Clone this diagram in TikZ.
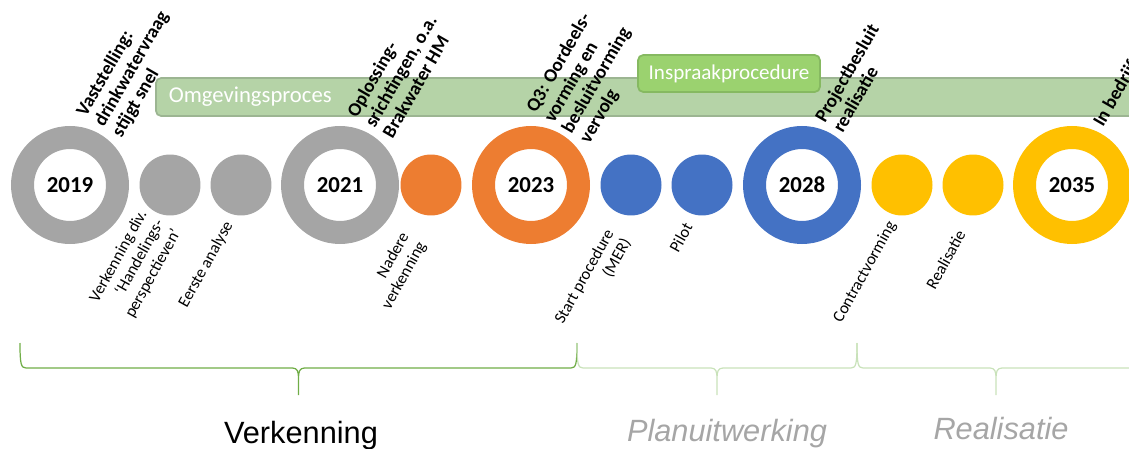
\documentclass[tikz,border=0pt]{standalone}
\usepackage{fontspec}
\setmainfont{Carlito}
\newfontfamily\phasefont{Liberation Sans}
\usetikzlibrary{positioning}

\definecolor{ringgray}{HTML}{A5A5A5}
\definecolor{ringorange}{HTML}{ED7D31}
\definecolor{ringblue}{HTML}{4472C4}
\definecolor{ringyellow}{HTML}{FFC000}
\definecolor{bandgreen}{HTML}{B5D3A7}
\definecolor{bandline}{HTML}{9CB592}
\definecolor{inspraakgreen}{HTML}{9BD26F}
\definecolor{inspraakline}{HTML}{86B961}
\definecolor{bracedark}{HTML}{70AD47}
\definecolor{bracelight}{HTML}{C9E2BA}
\definecolor{phasegray}{HTML}{A6A6A6}

\tikzset{
  ring/.style={circle, draw=#1, line width=0.46cm, minimum size=1.9cm, inner sep=0pt,
    font=\fontsize{13}{15}\selectfont\bfseries},
  dot/.style={circle, fill=#1, minimum size=1.22cm, inner sep=0pt},
  band/.style={rounded corners=3pt, line width=1pt, text=white, inner ysep=0pt},
  toplabel/.style={rotate=60, anchor=north west, align=left, inner sep=0pt,
    font=\fontsize{10.8}{11.7}\selectfont\bfseries},
  sublabel/.style={rotate=61, anchor=north east, align=right, inner sep=0pt,
    font=\fontsize{9.4}{11}\selectfont},
  phase/.style={anchor=base, inner sep=0pt, font=\phasefont\fontsize{17.5}{20}\selectfont},
  phaseit/.style={anchor=base, inner sep=0pt, text=phasegray,
    font=\phasefont\fontsize{17.5}{20}\selectfont\itshape}
}

% brace under a phase: left x, right x, colour
\newcommand{\phasebrace}[3]{%
  \draw[#3, line width=0.7pt] (#1,343) .. controls (#1,364) and (#1+1,368) .. (#1+6,368)
    -- ({(#1+#2)/2-6},368) .. controls ({(#1+#2)/2-1},368) and ({(#1+#2)/2},372) .. ({(#1+#2)/2},378)
    -- ({(#1+#2)/2},395)
    ({(#1+#2)/2},378) .. controls ({(#1+#2)/2},372) and ({(#1+#2)/2+1},368) .. ({(#1+#2)/2+6},368)
    -- (#2-6,368) .. controls (#2-1,368) and (#2,364) .. (#2,343);}

\begin{document}
\begin{tikzpicture}[x=0.02cm, y=-0.02cm]
\useasboundingbox (0,0) rectangle (1129,449);

% process bands
\node[band, fill=bandgreen, draw=bandline, anchor=west, inner xsep=0.26cm,
  text width=19.28cm, minimum height=0.76cm, align=left, text height=0.85em,
  font=\fontsize{12.9}{14}\selectfont] (omgeving) at (155,97) {Omgevingsproces};
\node[band, fill=inspraakgreen, draw=inspraakline, inner xsep=2pt,
  minimum width=3.64cm, minimum height=0.74cm,
  font=\fontsize{12}{14}\selectfont] (inspraak) at (729,73.5) {Inspraakprocedure};

% milestones and steps
\node[ring=ringgray] (r2019) at (70,185) {2019};
\node[dot=ringgray] (d1) at (170,185) {};
\node[dot=ringgray] (d2) at (241,185) {};
\node[ring=ringgray] (r2021) at (340,185) {2021};
\node[dot=ringorange] (d3) at (431,185) {};
\node[ring=ringorange] (r2023) at (531,185) {2023};
\node[dot=ringblue] (d4) at (631,185) {};
\node[dot=ringblue] (d5) at (702,185) {};
\node[ring=ringblue] (r2028) at (802,185) {2028};
\node[dot=ringyellow] (d6) at (902,185) {};
\node[dot=ringyellow] (d7) at (973,185) {};
\node[ring=ringyellow] (r2035) at (1072,185) {2035};

% labels above
\node[toplabel] (t2019) at (74,111) {Vaststelling:\\drinkwatervraag\\stijgt snel};
\node[toplabel] (t2021) at (345,112) {Oplossing-\\srichtingen, o.a.\\Brakwater HM};
\node[toplabel] (t2023) at (524,107) {Q3: Oordeels-\\vorming en\\besluitvorming\\vervolg};
\node[toplabel] (t2028) at (813,117) {Projectbesluit\\realisatie};
\node[toplabel] (t2035) at (1091,121) {In bedrijf};

% labels below
\node[sublabel] (s1) at (137,208) {Verkenning div.\\‘Handelings-\\perspectieven’};
\node[sublabel] (s2) at (223,219) {Eerste analyse};
\node[sublabel] (s3) at (399,230) {Nadere\\verkenning};
\node[sublabel] (s4) at (604,227) {Start procedure\\(MER)};
\node[sublabel] (s5) at (683,221) {Pilot};
\node[sublabel] (s6) at (886,219) {Contractvorming};
\node[sublabel] (s7) at (956,228) {Realisatie};

% phases
\phasebrace{20}{577}{bracedark}
\phasebrace{577}{857}{bracelight}
\phasebrace{857}{1135}{bracelight}

\node[phase] (verkenning) at (301,443) {Verkenning};
\node[phaseit] (planuitwerking) at (727,441) {Planuitwerking};
\node[phaseit] (realisatie) at (1001,439) {Realisatie};

\end{tikzpicture}
\end{document}
